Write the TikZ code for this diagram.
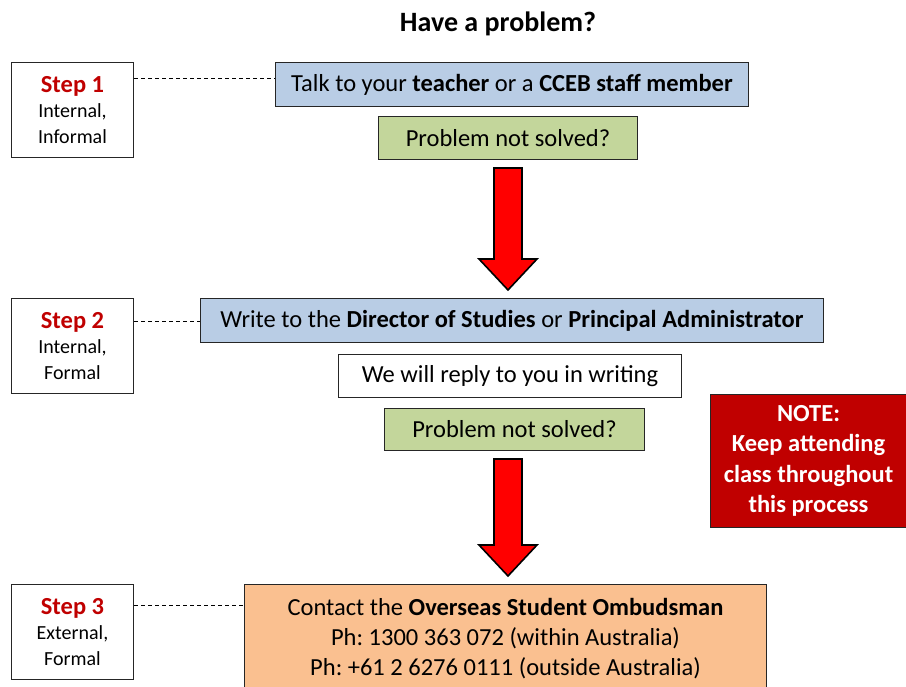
\documentclass[tikz,border=0pt]{standalone}
\usepackage{fontspec}
\setmainfont{Carlito}
\usetikzlibrary{positioning,calc}
\frenchspacing
\definecolor{stepred}{HTML}{C00000}
\definecolor{boxblue}{HTML}{B9CDE5}
\definecolor{boxgreen}{HTML}{C3D69B}
\definecolor{boxorange}{HTML}{FAC090}
\newcommand\blockarrow[2]{%
  \path (508,0 |- #1.south) ++(0,8) coordinate (top)
        (508,0 |- #2.north) ++(0,-8) coordinate (tip);
  \draw[bigarrow] ($(top)+(-14,0)$) -- ($(top)+(14,0)$) -- ($(tip)+(14,-31)$)
    -- ($(tip)+(29,-31)$) -- (tip) -- ($(tip)+(-29,-31)$) -- ($(tip)+(-14,-31)$) -- cycle;}
\begin{document}
\begin{tikzpicture}[x=1pt, y=-1pt, every node/.style={font=\fontsize{24.5}{29}\selectfont},
  box/.style={draw=black!85, line width=1pt, anchor=north west, inner sep=0pt, align=center},
  stepbox/.style={box, fill=white, minimum width=122, minimum height=95, font=\fontsize{20}{25.5}\selectfont},
  link/.style={dashed, dash pattern=on 4pt off 3pt, line width=0.8pt},
  bigarrow/.style={draw=black, line width=1.6pt, fill=red, line join=miter}]
  \useasboundingbox (0,0) rectangle (906,687);
  \node[font=\fontsize{28}{30}\selectfont\bfseries] (title) at (498,24) {Have a problem?};

  % step 1
  \node[stepbox] (s1) at (11,62) {{\color{stepred}\fontsize{24.5}{25.5}\selectfont\bfseries Step 1}\\Internal,\\Informal};
  \node[box, fill=boxblue, minimum width=473, minimum height=44] (t1) at (275,62)
    {Talk to your \textbf{teacher} or a \textbf{CCEB staff member}};
  \node[box, fill=boxgreen, minimum width=259, minimum height=43] (p1) at (378,116) {Problem not solved?};
  \draw[link] (s1.east |- 0,78) -- (t1.west |- 0,78);

  % step 2
  \node[stepbox] (s2) at (11,298) {{\color{stepred}\fontsize{24.5}{25.5}\selectfont\bfseries Step 2}\\Internal,\\Formal};
  \node[box, fill=boxblue, minimum width=623, minimum height=44] (t2) at (200,298)
    {Write to the \textbf{Director of Studies} or \textbf{Principal Administrator}};
  \node[box, fill=white, minimum width=343, minimum height=43] (r2) at (338,354) {We will reply to you in writing};
  \node[box, fill=boxgreen, minimum width=260, minimum height=42] (p2) at (384,408) {Problem not solved?};
  \draw[link] (s2.east |- 0,321) -- (t2.west |- 0,321);

  % step 3
  \node[stepbox] (s3) at (11,584) {{\color{stepred}\fontsize{24.5}{25.5}\selectfont\bfseries Step 3}\\External,\\Formal};
  \node[box, fill=boxorange, minimum width=522, minimum height=108, font=\fontsize{24.5}{30}\selectfont] (t3) at (244,584)
    {Contact the \textbf{Overseas Student Ombudsman}\\Ph: 1300 363 072 (within Australia)\\Ph: +61 2 6276 0111 (outside Australia)};
  \draw[link] (s3.east |- 0,605) -- (t3.west |- 0,605);

  % note
  \node[box, fill=stepred, text=white, minimum width=196, minimum height=133,
    font=\fontsize{24.5}{30.5}\selectfont\bfseries] (note) at (710,394)
    {NOTE:\\Keep attending\\class throughout\\this process};

  \blockarrow{p1}{s2}
  \blockarrow{p2}{t3}
\end{tikzpicture}
\end{document}
